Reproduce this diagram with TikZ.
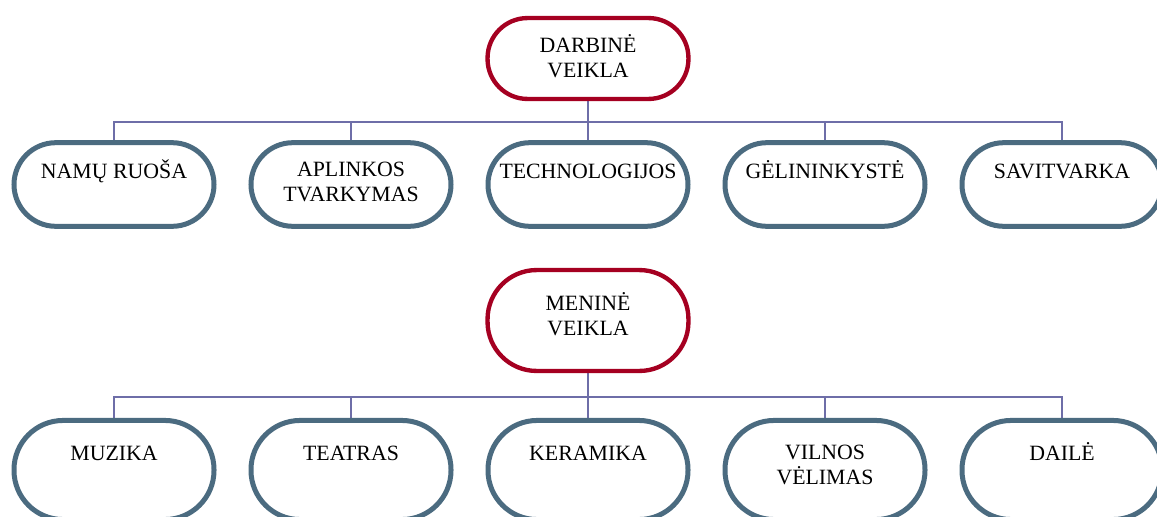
\documentclass[tikz,border=0pt]{standalone}
\usepackage{fontspec}
\setmainfont{Liberation Serif}
\definecolor{rootred}{HTML}{A50021}
\definecolor{leafblue}{HTML}{4B6B80}
\definecolor{linkviolet}{HTML}{6E6EA8}
\begin{document}
\begin{tikzpicture}[
        x=0.55pt, y=-0.55pt,
        root/.style={rectangle, draw=rootred, fill=white, line width=2.4pt, minimum width=110.5pt, inner sep=0pt},
        leaf/.style={rectangle, draw=leafblue, fill=white, line width=2.75pt, minimum width=110pt, inner sep=0pt},
        lbl/.style={anchor=north, align=center, inner sep=0pt, font=\fontsize{12}{13.8}\selectfont, execute at begin node=\rule{0pt}{12pt}},
        link/.style={draw=linkviolet, line width=0.9pt}
    ]
    \clip (0,0) rectangle (1157,517);
    
    % darbine veikla
    \coordinate (dbus) at (588,122);
    \draw[link] (588,58) -- (dbus);
    \draw[link] (dbus) -| (114,160);
    \draw[link] (dbus) -| (351,160);
    \draw[link] (dbus) -| (588,160);
    \draw[link] (dbus) -| (825,160);
    \draw[link] (dbus) -| (1062,160);
    
    \node[root, minimum height=44.5pt, rounded corners=22pt, label={[lbl, yshift=-10pt]north:{DARBINĖ\\VEIKLA}}] (d) at (588,58.5) {};
    
    \node[leaf, minimum height=46pt, rounded corners=23pt, label={[lbl, yshift=-8.6pt]north:{NAMŲ RUOŠA}}] (d1) at (114,184.5) {};
    \node[leaf, minimum height=46pt, rounded corners=23pt, label={[lbl, yshift=-11.9pt]north:{APLINKOS\\TVARKYMAS}}] (d2) at (351,184.5) {};
    \node[leaf, minimum height=46pt, rounded corners=23pt, label={[lbl, yshift=-8.6pt]north:{TECHNOLOGIJOS}}] (d3) at (588,184.5) {};
    \node[leaf, minimum height=46pt, rounded corners=23pt, label={[lbl, yshift=-8.6pt]north:{GĖLININKYSTĖ}}] (d4) at (825,184.5) {};
    \node[leaf, minimum height=46pt, rounded corners=23pt, label={[lbl, yshift=-8.6pt]north:{SAVITVARKA}}] (d5) at (1062,184.5) {};
    
    % menine veikla
    \coordinate (mbus) at (588,397);
    \draw[link] (588,320) -- (mbus);
    \draw[link] (mbus) -| (114,440);
    \draw[link] (mbus) -| (351,440);
    \draw[link] (mbus) -| (588,440);
    \draw[link] (mbus) -| (825,440);
    \draw[link] (mbus) -| (1062,440);
    
    \node[root, minimum height=55.5pt, rounded corners=27pt, label={[lbl, yshift=-13.2pt]north:{MENINĖ\\VEIKLA}}] (m) at (588,320.5) {};
    
    \node[leaf, minimum height=54.5pt, rounded corners=27pt, label={[lbl, yshift=-11.4pt]north:{MUZIKA}}] (m1) at (114,470) {};
    \node[leaf, minimum height=54.5pt, rounded corners=27pt, label={[lbl, yshift=-11.4pt]north:{TEATRAS}}] (m2) at (351,470) {};
    \node[leaf, minimum height=54.5pt, rounded corners=27pt, label={[lbl, yshift=-11.4pt]north:{KERAMIKA}}] (m3) at (588,470) {};
    \node[leaf, minimum height=54.5pt, rounded corners=27pt, label={[lbl, yshift=-14.7pt]north:{VILNOS\\VĖLIMAS}}] (m4) at (825,470) {};
    \node[leaf, minimum height=54.5pt, rounded corners=27pt, label={[lbl, yshift=-11.4pt]north:{DAILĖ}}] (m5) at (1062,470) {};
    
    \end{tikzpicture}
\end{document}
